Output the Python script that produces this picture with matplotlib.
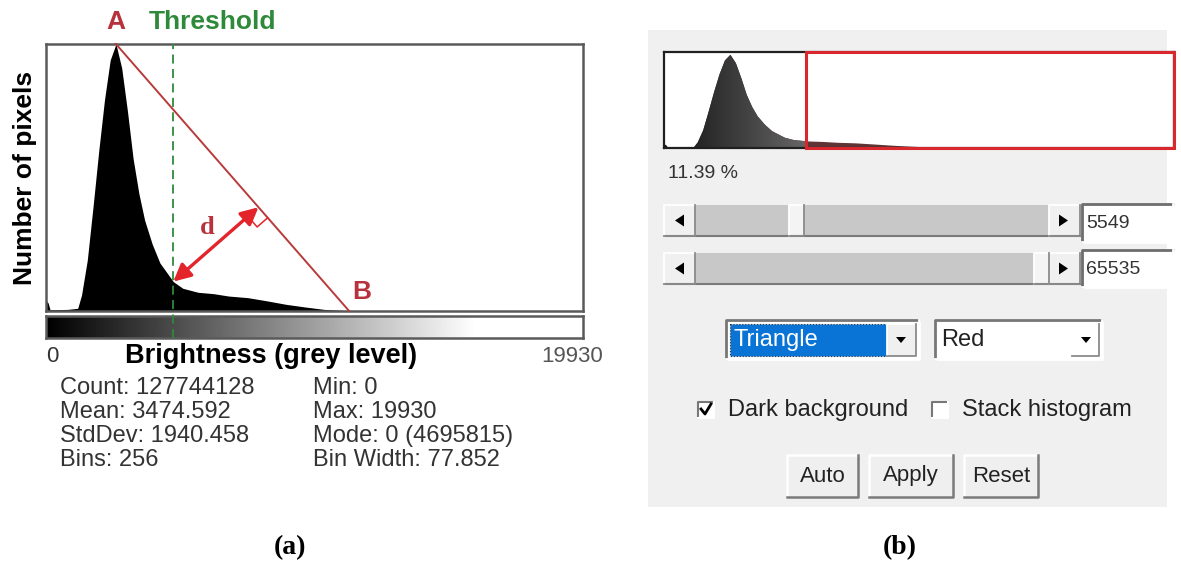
import numpy as np
import matplotlib.pyplot as plt
from matplotlib.patches import Rectangle, Polygon

plt.rcParams['font.family'] = ['Liberation Sans', 'DejaVu Sans']

W, H = 1181, 587

# histogram (brightness, relative count; peak = 100)
brightness = [0, 80, 150, 400, 800, 1177, 1319, 1532, 1745, 1958, 2170, 2383, 2596,
              2809, 3021, 3234, 3447, 3660, 3943, 4227, 4511, 4724, 5078, 5646,
              6213, 6780, 7488, 8199, 8908, 9617, 10327, 11036, 11250, 19930]
counts = [4, 3, 0.5, 0.5, 0.6, 1, 6, 19, 39, 60, 79, 94, 100,
          91, 75, 57, 44, 34, 25, 18, 14, 11, 8.5, 7,
          6.5, 5.6, 5, 3.8, 2.5, 1.5, 0.6, 0.2, 0, 0]
max_grey = 19930
peak_x = 2596        # point A
end_x = 11250        # point B
threshold_a = 4724   # dashed line in (a)
threshold_b = 5549   # value set in the dialog (b)

stats_left = ["Count: 127744128", "Mean: 3474.592", "StdDev: 1940.458", "Bins: 256"]
stats_right = ["Min: 0", "Max: 19930", "Mode: 0 (4695815)", "Bin Width: 77.852"]
percent_label = "11.39 %"
slider_values = [5549, 65535]
method = "Triangle"
display = "Red"
checkboxes = [("Dark background", True), ("Stack histogram", False)]
buttons = ["Auto", "Apply", "Reset"]


def px_rect(x0, y0, x1, y1):
    return [x0 / W, 1 - y1 / H, (x1 - x0) / W, (y1 - y0) / H]


fig = plt.figure(figsize=(W / 100, H / 100), dpi=100)
fig.patch.set_facecolor('white')

# Hintergrund-Achse in Pixelkoordinaten
bg = fig.add_axes([0, 0, 1, 1])
bg.set_xlim(0, W)
bg.set_ylim(H, 0)
bg.axis('off')
bg.set_zorder(0)

# ---------------- (a) ----------------
ax = fig.add_axes(px_rect(46, 44, 583, 311))
ax.set_zorder(2)
ax.set_xlim(0, max_grey)
ax.set_ylim(0, 100)
ax.set_xticks([])
ax.set_yticks([])
for s in ax.spines.values():
    s.set_color('#5a5a5a')
    s.set_linewidth(1.8)
ax.fill_between(brightness, counts, color='black', lw=0)

# Graustufenbalken
axg = fig.add_axes(px_rect(46, 316, 583, 338))
axg.set_zorder(1)
grad = np.clip(np.linspace(0, 1.25, 512), 0, 1)[None, :]
axg.imshow(grad, cmap='gray', vmin=0, vmax=1, aspect='auto', extent=[0, max_grey, 0, 1])
axg.set_xticks([])
axg.set_yticks([])
for s in axg.spines.values():
    s.set_color('#5a5a5a')
    s.set_linewidth(1.8)

# threshold line, down through the grey bar
y_bar_bottom = -(338 - 311) / (311 - 44) * 100
ax.plot([threshold_a, threshold_a], [y_bar_bottom, 100], color='#2e8a3a', lw=1.3,
        ls=(0, (5, 3)), clip_on=False, zorder=5)

# line A-B
red_line = '#b83a3a'
ax.plot([peak_x, end_x], [100, 0], color=red_line, lw=1.4, clip_on=False, zorder=4)

# distance d, perpendicular to A-B
tr = ax.transData
pA = tr.transform((peak_x, 100))
pB = tr.transform((end_x, 0))
p_thr = tr.transform((threshold_a, np.interp(threshold_a, brightness, counts)))
u = (pB - pA) / np.linalg.norm(pB - pA)
foot = pA + np.dot(p_thr - pA, u) * u
v = (p_thr - foot) / np.linalg.norm(p_thr - foot)
inv = tr.inverted()
foot_d = inv.transform(foot)
thr_d = inv.transform(p_thr)
ax.annotate('', xy=foot_d, xytext=thr_d,
            arrowprops=dict(arrowstyle='<|-|>', color='#e3242b', lw=2.4,
                            mutation_scale=26, shrinkA=0, shrinkB=0), zorder=6)
sq = 14
corners = [foot + sq * u, foot + sq * u + sq * v, foot + sq * v]
corners = inv.transform(np.array(corners))
ax.plot(corners[:, 0], corners[:, 1], color='#e3242b', lw=1.1, zorder=6)
mid = inv.transform((foot + p_thr) / 2)
ax.annotate('d', xy=mid, xytext=(-6, 12), textcoords='offset points', ha='center',
            va='center', fontsize=19, fontweight='bold', color='#b8323e',
            family=['Liberation Serif'], annotation_clip=False)

label_red = '#b8323e'
ax.annotate('A', xy=(peak_x, 100), xytext=(0, 16), textcoords='offset points',
            ha='center', va='center', fontsize=19, fontweight='bold', color=label_red,
            annotation_clip=False)
ax.annotate('Threshold', xy=(threshold_a, 100), xytext=(-18, 16), textcoords='offset points',
            ha='left', va='center', fontsize=19, fontweight='bold', color='#2e8a3a',
            annotation_clip=False)
ax.annotate('B', xy=(end_x, 0), xytext=(9, 14), textcoords='offset points',
            ha='center', va='center', fontsize=19, fontweight='bold', color=label_red,
            annotation_clip=False)

bg.text(25, 178, 'Number of pixels', rotation=90, ha='center', va='center',
        fontsize=19, fontweight='bold')
bg.text(46, 356, '0', ha='left', va='center', fontsize=16, color='#333333')
bg.text(271, 356, 'Brightness (grey level)', ha='center', va='center',
        fontsize=19.5, fontweight='bold')
bg.text(603, 356, str(max_grey), ha='right', va='center', fontsize=16, color='#555555')

for i, (l, r) in enumerate(zip(stats_left, stats_right)):
    bg.text(60, 388 + 24 * i, l, ha='left', va='center', fontsize=17, color='#333333')
    bg.text(313, 388 + 24 * i, r, ha='left', va='center', fontsize=17, color='#333333')

# ---------------- (b) ----------------
bg.add_patch(Rectangle((648, 30), 1167 - 648, 507 - 30, fc='#f0f0f0', ec='none'))


def box(x0, y0, x1, y1, fc, raised=True, lw=1.3, dark='#8a8a8a'):
    bg.add_patch(Rectangle((x0, y0), x1 - x0, y1 - y0, fc=fc, ec='none'))
    hi, lo = ('white', dark) if raised else (dark, 'white')
    bg.plot([x0, x0, x1], [y1, y0, y0], color=hi, lw=lw)
    bg.plot([x0, x1, x1], [y1, y1, y0], color=lo, lw=lw)


axb = fig.add_axes(px_rect(664, 52, 1174, 148))
axb.set_zorder(2)
verts = list(zip(brightness, counts)) + [(max_grey, 0), (0, 0)]
shape = Polygon(verts, closed=True, fc='#5e3434', ec='none', transform=axb.transData,
                zorder=1)
axb.add_patch(shape)
grad_b = np.linspace(0.07, 0.40, 256)[None, :]
im = axb.imshow(grad_b, cmap='gray', vmin=0, vmax=1, aspect='auto',
                extent=[0, threshold_b, 0, 103], zorder=2, interpolation='bilinear')
im.set_clip_path(shape)
axb.set_xlim(0, max_grey)
axb.set_ylim(0, 103)
axb.set_xticks([])
axb.set_yticks([])
for s in axb.spines.values():
    s.set_color('#202020')
    s.set_linewidth(1.6)
axb.add_patch(Rectangle((threshold_b, 0), max_grey - threshold_b, 103, fill=False,
                        ec='#d8272d', lw=2.2, clip_on=False, zorder=4))

bg.text(668, 173, percent_label, ha='left', va='center', fontsize=14, color='#333333')

# slider
track_x0, track_x1 = 695, 1049
thumb_w = 15
for val, (y0, y1, ty0, ty1) in zip(slider_values, [(205, 236, 204, 242), (253, 284, 250, 287)]):
    bg.add_patch(Rectangle((track_x0, y0), track_x1 - track_x0, y1 - y0, fc='#c8c8c8', ec='none'))
    bg.plot([664, 1080], [y1, y1], color='#7a7a7a', lw=1.5)
    box(664, y0, 695, y1, '#f0f0f0')
    box(1049, y0, 1080, y1, '#f0f0f0')
    yc = (y0 + y1) / 2
    bg.add_patch(Polygon([(675, yc), (684, yc - 6), (684, yc + 6)], fc='black', ec='none'))
    bg.add_patch(Polygon([(1068, yc), (1059, yc - 6), (1059, yc + 6)], fc='black', ec='none'))
    frac = min(val / max_grey, 1.0)
    tx = track_x0 + frac * (track_x1 - track_x0 - thumb_w)
    box(tx, y0, tx + thumb_w, y1, '#f4f4f4')
    box(1082, ty0, 1173, ty1, 'white', raised=False, lw=2, dark='#6d6d6d')
    bg.text(1086, (ty0 + ty1) / 2 + 1, str(val), ha='left', va='center', fontsize=14,
            color='#333333')

# dropdowns
box(726, 320, 919, 359, 'white', raised=False, lw=2, dark='#777777')
bg.add_patch(Rectangle((730, 324), 887 - 730, 356 - 324, fc='#0a74d6', ec='#333333',
                       lw=0.8, ls=':'))
bg.text(734, 340, method, ha='left', va='center', fontsize=17, color='white')
box(887, 324, 916, 356, '#f0f0f0')
bg.add_patch(Polygon([(896, 337), (906, 337), (901, 343)], fc='black', ec='none'))

box(935, 320, 1102, 359, 'white', raised=False, lw=2, dark='#777777')
bg.text(941, 340, display, ha='left', va='center', fontsize=17, color='#222222')
box(1072, 324, 1099, 356, 'white')
bg.add_patch(Polygon([(1081, 337), (1091, 337), (1086, 343)], fc='black', ec='none'))

# checkboxes
for (label, checked), cx in zip(checkboxes, [698, 932]):
    box(cx, 402, cx + 16, 418, 'white', raised=False, lw=1.5, dark='#777777')
    if checked:
        bg.plot([cx + 3, cx + 7, cx + 13], [409, 414, 404], color='black', lw=2)
    bg.text(cx + 30, 410, label, ha='left', va='center', fontsize=17, color='#222222')

# buttons
for label, (x0, x1) in zip(buttons, [(787, 858), (869, 953), (964, 1038)]):
    box(x0, 455, x1, 497, '#efefef', lw=1.8, dark='#7a7a7a')
    bg.text((x0 + x1) / 2, 476, label, ha='center', va='center', fontsize=16,
            color='#222222')

# panel labels
bg.text(290, 548, '(a)', ha='center', va='center', fontsize=20, fontweight='bold',
        family=['Liberation Serif'])
bg.text(900, 548, '(b)', ha='center', va='center', fontsize=20, fontweight='bold',
        family=['Liberation Serif'])

fig.savefig('out.png', dpi=100)
